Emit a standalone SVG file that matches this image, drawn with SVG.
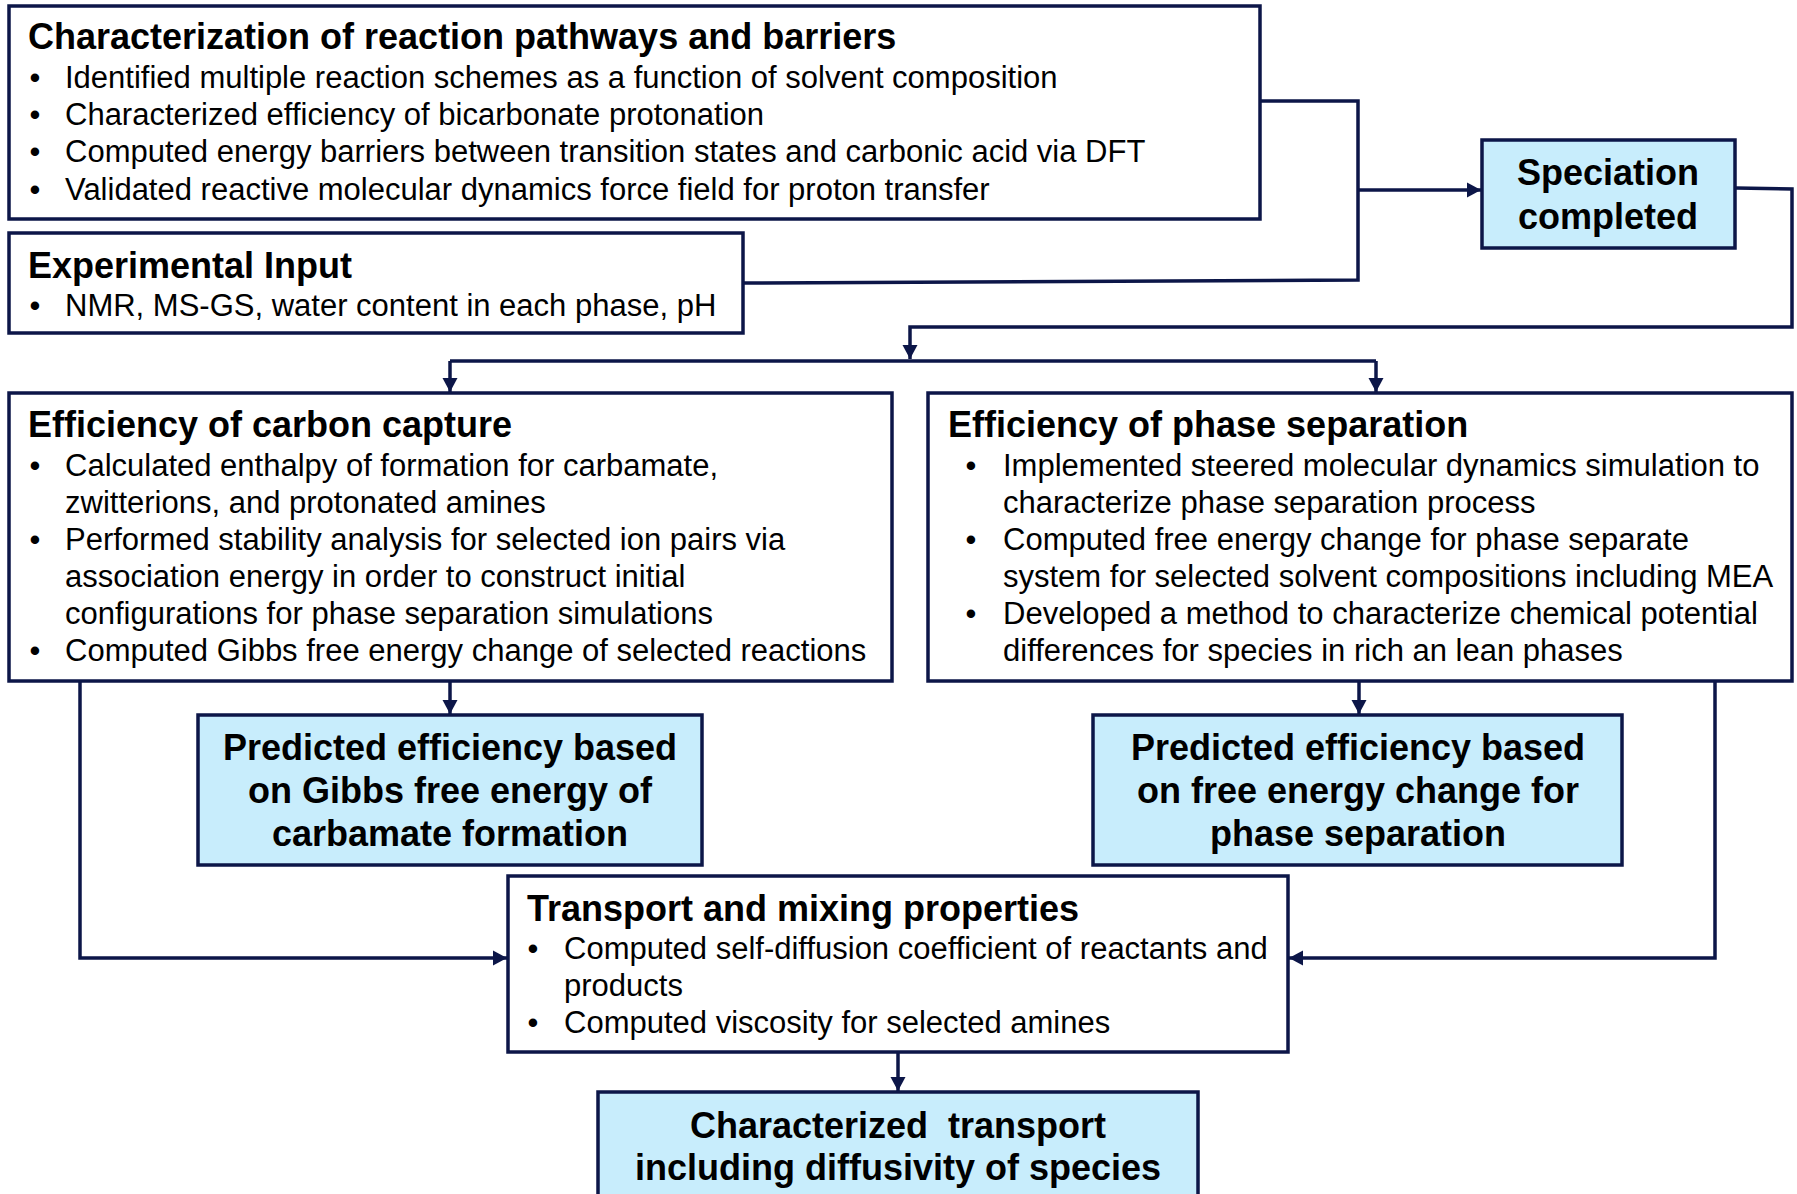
<svg xmlns="http://www.w3.org/2000/svg" width="1797" height="1194" viewBox="0 0 1797 1194">
<style>
.box{fill:#ffffff;stroke:#0c1648;stroke-width:3.5}
.hl{fill:#c8edfc;stroke:#0c1648;stroke-width:3.5}
.t{font-family:"Liberation Sans",Arial,sans-serif;font-size:36px;font-weight:bold;fill:#000}
.b{font-family:"Liberation Sans",Arial,sans-serif;font-size:31px;fill:#000}
.c{font-family:"Liberation Sans",Arial,sans-serif;font-size:36px;font-weight:bold;fill:#000;text-anchor:middle}
.bu{text-anchor:middle}
.ln{fill:none;stroke:#0c1648;stroke-width:3.5}
</style>
<defs>
<marker id="ah" markerUnits="userSpaceOnUse" markerWidth="16" markerHeight="16" viewBox="0 0 16 16" refX="14" refY="8" orient="auto">
<path d="M0,0.5 L14,8 L0,15.5 Z" fill="#0c1648"/>
</marker>
</defs>
<rect width="1797" height="1194" fill="#ffffff"/>

<g id="connectors">
<path class="ln" d="M1261,101 H1358 V280 L744,283"/>
<path class="ln" d="M1358,190 H1481" marker-end="url(#ah)"/>
<path class="ln" d="M1736,188 L1792,189 V327 H910 V359" marker-end="url(#ah)"/>
<path class="ln" d="M450,361 H1376"/>
<path class="ln" d="M450,361 V392" marker-end="url(#ah)"/>
<path class="ln" d="M1376,361 V392" marker-end="url(#ah)"/>
<path class="ln" d="M450,682 V714" marker-end="url(#ah)"/>
<path class="ln" d="M1359,682 V714" marker-end="url(#ah)"/>
<path class="ln" d="M80,682 V958 H507" marker-end="url(#ah)"/>
<path class="ln" d="M1715,682 V958 H1289" marker-end="url(#ah)"/>
<path class="ln" d="M898,1052 V1091" marker-end="url(#ah)"/>
</g>

<g id="node-reaction">
<rect class="box" x="9" y="6" width="1251" height="213"/>
<text class="t" x="28" y="49">Characterization of reaction pathways and barriers</text>
<text class="b bu" x="35" y="88">•</text>
<text class="b" x="65" y="88">Identified multiple reaction schemes as a function of solvent composition</text>
<text class="b bu" x="35" y="125">•</text>
<text class="b" x="65" y="125">Characterized efficiency of bicarbonate protonation</text>
<text class="b bu" x="35" y="162">•</text>
<text class="b" x="65" y="162">Computed energy barriers between transition states and carbonic acid via DFT</text>
<text class="b bu" x="35" y="200">•</text>
<text class="b" x="65" y="200">Validated reactive molecular dynamics force field for proton transfer</text>
</g>

<g id="node-experimental">
<rect class="box" x="9" y="233" width="734" height="100"/>
<text class="t" x="28" y="278">Experimental Input</text>
<text class="b bu" x="35" y="316">•</text>
<text class="b" x="65" y="316">NMR, MS-GS, water content in each phase, pH</text>
</g>

<g id="node-speciation">
<rect class="hl" x="1482" y="140" width="253" height="108"/>
<text class="c" x="1608" y="185">Speciation</text>
<text class="c" x="1608" y="229">completed</text>
</g>

<g id="node-carbon-capture">
<rect class="box" x="9" y="393" width="883" height="288"/>
<text class="t" x="28" y="437">Efficiency of carbon capture</text>
<text class="b bu" x="35" y="476">•</text>
<text class="b" x="65" y="476">Calculated enthalpy of formation for carbamate,</text>
<text class="b" x="65" y="513">zwitterions, and protonated amines</text>
<text class="b bu" x="35" y="550">•</text>
<text class="b" x="65" y="550">Performed stability analysis for selected ion pairs via</text>
<text class="b" x="65" y="587">association energy in order to construct initial</text>
<text class="b" x="65" y="624">configurations for phase separation simulations</text>
<text class="b bu" x="35" y="661">•</text>
<text class="b" x="65" y="661">Computed Gibbs free energy change of selected reactions</text>
</g>

<g id="node-phase-separation">
<rect class="box" x="928" y="393" width="864" height="288"/>
<text class="t" x="948" y="437">Efficiency of phase separation</text>
<text class="b bu" x="971" y="476">•</text>
<text class="b" x="1003" y="476">Implemented steered molecular dynamics simulation to</text>
<text class="b" x="1003" y="513">characterize phase separation process</text>
<text class="b bu" x="971" y="550">•</text>
<text class="b" x="1003" y="550">Computed free energy change for phase separate</text>
<text class="b" x="1003" y="587">system for selected solvent compositions including MEA</text>
<text class="b bu" x="971" y="624">•</text>
<text class="b" x="1003" y="624">Developed a method to characterize chemical potential</text>
<text class="b" x="1003" y="661">differences for species in rich an lean phases</text>
</g>

<g id="node-predicted-gibbs">
<rect class="hl" x="198" y="715" width="504" height="150"/>
<text class="c" x="450" y="760">Predicted efficiency based</text>
<text class="c" x="450" y="803">on Gibbs free energy of</text>
<text class="c" x="450" y="846">carbamate formation</text>
</g>

<g id="node-predicted-phase">
<rect class="hl" x="1093" y="715" width="529" height="150"/>
<text class="c" x="1358" y="760">Predicted efficiency based</text>
<text class="c" x="1358" y="803">on free energy change for</text>
<text class="c" x="1358" y="846">phase separation</text>
</g>

<g id="node-transport">
<rect class="box" x="508" y="876" width="780" height="176"/>
<text class="t" x="527" y="921">Transport and mixing properties</text>
<text class="b bu" x="533" y="959">•</text>
<text class="b" x="564" y="959">Computed self-diffusion coefficient of reactants and</text>
<text class="b" x="564" y="996">products</text>
<text class="b bu" x="533" y="1033">•</text>
<text class="b" x="564" y="1033">Computed viscosity for selected amines</text>
</g>

<g id="node-characterized">
<rect class="hl" x="598" y="1092" width="600" height="120"/>
<text class="c" x="898" y="1138" xml:space="preserve">Characterized  transport</text>
<text class="c" x="898" y="1180">including diffusivity of species</text>
</g>
</svg>
